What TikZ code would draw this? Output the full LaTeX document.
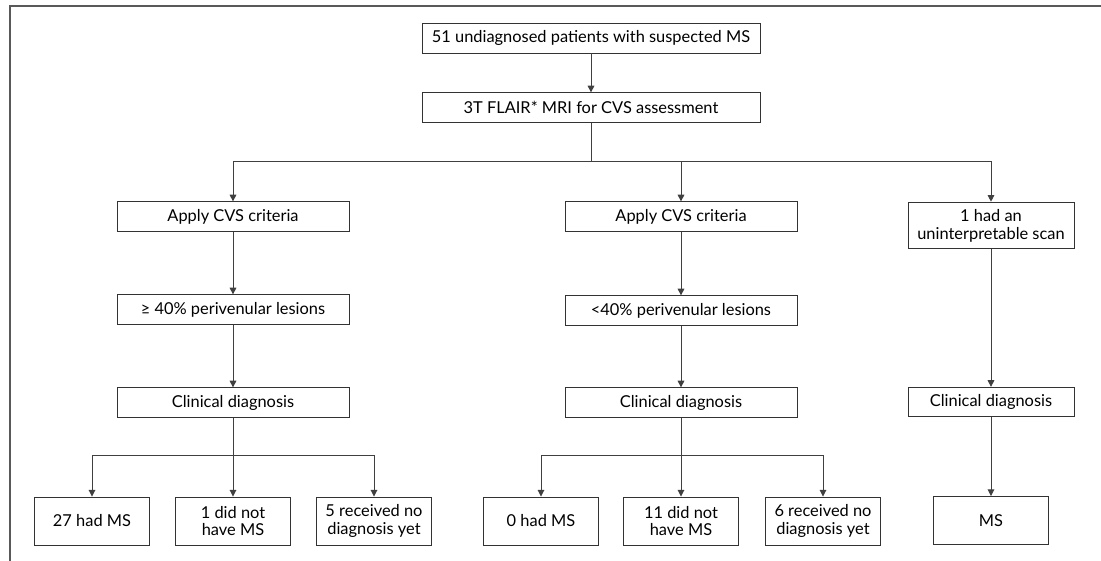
\documentclass[tikz,border=0pt]{standalone}
\usepackage{fontspec}
\setmainfont{Lato}
\usetikzlibrary{arrows.meta}

\tikzset{
  box/.style={draw=black!80, line width=0.7pt, fill=white, align=center,
    inner sep=0pt, font=\fontsize{12.3}{13.3}\selectfont},
  arr/.style={draw=black!75, line width=0.7pt, -{Triangle[width=5pt,length=5pt]}},
  link/.style={draw=black!75, line width=0.7pt}
}

\begin{document}
\begin{tikzpicture}[x=0.75pt,y=-0.75pt]
    \useasboundingbox (0,0) rectangle (1101,561);
    \draw[black!65,line width=1.1pt] (10,561) -- (10,6) -- (1101,6);
    % top of the chart
    \node[box,minimum width=253.5pt,minimum height=22.5pt] (patients) at (591,38) {51 undiagnosed patients with suspected MS};
    \node[box,minimum width=253.5pt,minimum height=22pt] (mri) at (591,107.5) {3T FLAIR* MRI for CVS assessment};
    \coordinate (split) at (591,161);
    % left column
    \node[box,minimum width=174pt,minimum height=22pt] (applyL) at (233,216.5) {Apply CVS criteria};
    \node[box,minimum width=174pt,minimum height=22pt] (highL) at (233,309.5) {≥ 40\% perivenular lesions};
    \node[box,minimum width=174pt,minimum height=22pt] (clinL) at (233,402.5) {Clinical diagnosis};
    \coordinate (splitL) at (233,455);
    \node[box,minimum width=86pt,minimum height=36pt] (hadL) at (92,521) {27 had MS};
    \node[box,minimum width=86pt,minimum height=36pt] (notL) at (233,521) {1 did not\\have MS};
    \node[box,minimum width=86pt,minimum height=36pt] (noneL) at (374,521) {5 received no\\diagnosis yet};
    % middle column
    \node[box,minimum width=174pt,minimum height=22pt] (applyM) at (681,216.5) {Apply CVS criteria};
    \node[box,minimum width=174pt,minimum height=22pt] (lowM) at (681,310.5) {<40\% perivenular lesions};
    \node[box,minimum width=174pt,minimum height=22pt] (clinM) at (681,402.5) {Clinical diagnosis};
    \coordinate (splitM) at (681,455);
    \node[box,minimum width=86pt,minimum height=36pt] (hadM) at (541,521) {0 had MS};
    \node[box,minimum width=86pt,minimum height=36pt] (notM) at (681,521) {11 did not\\have MS};
    \node[box,minimum width=86pt,minimum height=36pt] (noneM) at (823,521) {6 received no\\diagnosis yet};
    % right column
    \node[box,minimum width=124.5pt,minimum height=35pt] (scanR) at (991,225.5) {1 had an\\uninterpretable scan};
    \node[box,minimum width=124.5pt,minimum height=22pt] (clinR) at (991,402) {Clinical diagnosis};
    \node[box,minimum width=86pt,minimum height=36pt] (msR) at (991,520.5) {MS};
    % connectors
    \draw[arr] (patients) -- (mri);
    \draw[link] (mri) -- (split);
    \draw[arr] (split) -| (applyL);
    \draw[arr] (split) -| (applyM);
    \draw[arr] (split) -| (scanR);
    \draw[arr] (applyL) -- (highL);
    \draw[arr] (highL) -- (clinL);
    \draw[link] (clinL) -- (splitL);
    \draw[arr] (splitL) -| (hadL);
    \draw[arr] (splitL) -- (notL);
    \draw[arr] (splitL) -| (noneL);
    \draw[arr] (applyM) -- (lowM);
    \draw[arr] (lowM) -- (clinM);
    \draw[link] (clinM) -- (splitM);
    \draw[arr] (splitM) -| (hadM);
    \draw[arr] (splitM) -- (notM);
    \draw[arr] (splitM) -| (noneM);
    \draw[arr] (scanR) -- (clinR);
    \draw[arr] (clinR) -- (msR);
\end{tikzpicture}
\end{document}
